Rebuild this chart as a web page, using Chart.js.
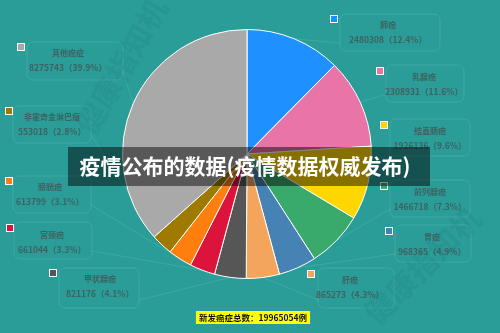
<!DOCTYPE html>
<html><head><meta charset="utf-8">
<script src="https://cdn.jsdelivr.net/npm/chart.js@4/dist/chart.umd.min.js"></script>
<style>html,body{margin:0;padding:0;background:#2a9d98;}canvas{display:block;}</style>
</head><body>
<canvas id="c" width="500" height="333"></canvas>
<script>
const categories = ['肺癌','乳腺癌','结直肠癌','前列腺癌','胃癌','肝癌','甲状腺癌','宫颈癌','膀胱癌','非霍奇金淋巴瘤','其他癌症'];
const caseCounts = [2480308, 2308931, 1926136, 1466718, 968365, 865273, 821176, 661044, 613799, 553018, 8275743];
const percentLabels = ['12.4%','11.6%','9.6%','7.3%','4.9%','4.3%','4.1%','3.3%','3.1%','2.8%','39.9%'];
const sliceShares = [12.4, 11.6, 9.6, 7.3, 4.9, 4.3, 4.1, 3.3, 3.1, 2.8, 36.6];
const totalText = '新发癌症总数：19965054例';
const titleText = '疫情公布的数据(疫情数据权威发布)';

const colors = ['#1e90ff','#e874a8','#ffd700','#3aaa6c','#4682b4','#f4a55c','#565656','#dc143c','#ff7f0e','#9e7b00','#a9a9a9'];
const layout = [
  {sq:[334,19], box:[340,14,100,37], tx:388, ty:25},
  {sq:[380,71], box:[386,65,78,37], tx:424, ty:77},
  {sq:[384,125], box:[390,119,80,37], tx:430, ty:131},
  {sq:[384,186], box:[390,180,80,37], tx:430, ty:192},
  {sq:[389,231], box:[395,225,76,37], tx:432, ty:237},
  {sq:[311,274], box:[318,268,76,40], tx:350, ty:280},
  {sq:[53,273], box:[59,268,80,40], tx:100, ty:279},
  {sq:[10,228], box:[14,222,78,37], tx:52, ty:235},
  {sq:[9,181], box:[13,176,78,37], tx:50, ty:187},
  {sq:[9,111], box:[13,106,78,37], tx:52, ty:117},
  {sq:[21,47], box:[27,42,96,38], tx:68, ty:53}
];

function rr(ctx,x,y,w,h,r){ctx.beginPath();ctx.moveTo(x+r,y);ctx.arcTo(x+w,y,x+w,y+h,r);ctx.arcTo(x+w,y+h,x,y+h,r);ctx.arcTo(x,y+h,x,y,r);ctx.arcTo(x,y,x+w,y,r);ctx.closePath();}

const overlay = {
  id:'overlay',
  beforeDraw(chart){
    const ctx = chart.ctx;
    ctx.save();
    ctx.fillStyle = '#2a9d98';
    ctx.fillRect(0,0,chart.width,chart.height);
    ctx.font = 'bold 30px "Noto Sans CJK SC"';
    ctx.fillStyle = 'rgba(0,60,60,0.07)';
    ctx.translate(115,80); ctx.rotate(-Math.PI/3);
    ctx.fillText('健康指知机',-60,10);
    ctx.setTransform(1,0,0,1,0,0);
    ctx.translate(420,270); ctx.rotate(-Math.PI/4);
    ctx.fillText('健康指知机',-70,10);
    ctx.setTransform(1,0,0,1,0,0);
    const meta = chart.getDatasetMeta(0);
    meta.data.forEach((arc,i)=>{
      const L = layout[i];
      const mid = (arc.startAngle+arc.endAngle)/2;
      const px = arc.x + Math.cos(mid)*arc.outerRadius;
      const py = arc.y + Math.sin(mid)*arc.outerRadius;
      ctx.strokeStyle = 'rgba(255,255,255,0.10)';
      ctx.lineWidth = 1;
      ctx.beginPath();
      ctx.moveTo(px,py);
      const bx = L.box[0] + (px > L.box[0] + L.box[2] ? L.box[2] : 0);
      ctx.lineTo(bx, L.box[1]+L.box[3]-8);
      ctx.stroke();
      rr(ctx,L.box[0],L.box[1],L.box[2],L.box[3],6);
      ctx.stroke();
    });
    ctx.restore();
  },
  afterDraw(chart){
    const ctx = chart.ctx;
    ctx.save();
    layout.forEach((L,i)=>{
      ctx.fillStyle = '#ffffff';
      ctx.fillRect(L.sq[0]-4,L.sq[1]-4,8,8);
      ctx.fillStyle = colors[i];
      ctx.fillRect(L.sq[0]-3,L.sq[1]-3,6,6);
      ctx.fillStyle = 'rgba(70,75,75,0.72)';
      ctx.textAlign = 'center'; ctx.textBaseline = 'middle';
      ctx.font = 'bold 8px "Noto Sans CJK SC"';
      ctx.fillText(categories[i], L.tx, L.ty);
      ctx.font = 'bold 8.5px "Noto Sans CJK SC"';
      ctx.fillText(caseCounts[i] + '（' + percentLabels[i] + '）', L.tx, L.ty+15);
    });
    ctx.fillStyle = 'rgba(0,0,0,0.48)';
    ctx.fillRect(68,147,362,39);
    ctx.fillStyle = '#ffffff';
    ctx.font = 'bold 21px "Noto Sans CJK SC"';
    ctx.textAlign = 'center'; ctx.textBaseline = 'middle';
    ctx.fillText(titleText, 245, 166);
    ctx.font = 'bold 8.5px "Noto Sans CJK SC"';
    const w = ctx.measureText(totalText).width;
    ctx.fillStyle = '#ffff00';
    ctx.fillRect(253 - w/2 - 3, 311, w + 6, 13);
    ctx.fillStyle = '#111';
    ctx.fillText(totalText, 253, 318);
    ctx.restore();
  }
};

new Chart(document.getElementById('c'), {
  type:'pie',
  data:{labels:categories, datasets:[{data:sliceShares, backgroundColor:colors, borderColor:'#ffffff', borderWidth:1}]},
  options:{
    responsive:false, animation:false,
    layout:{padding:{top:29,bottom:54,left:59,right:65}},
    plugins:{legend:{display:false}, tooltip:{enabled:false}}
  },
  plugins:[overlay]
});
</script>
</body></html>
